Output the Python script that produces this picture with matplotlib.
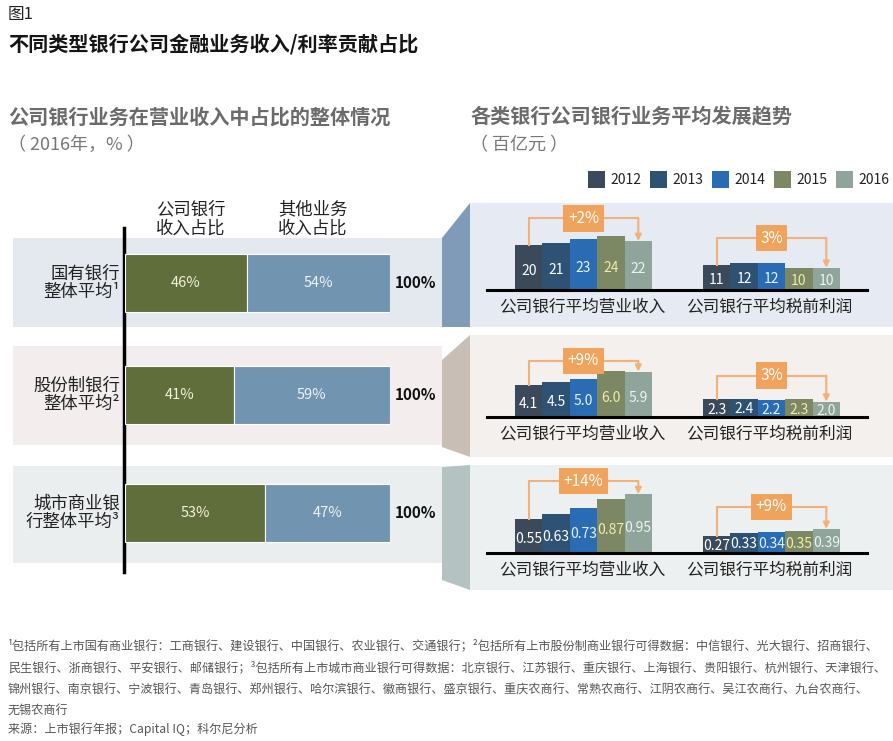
import matplotlib
matplotlib.use('Agg')
import matplotlib.pyplot as plt
from matplotlib.patches import Rectangle, Polygon

plt.rcParams['font.family'] = ['Noto Sans CJK SC', 'DejaVu Sans']

# ---- data ----
row_names = ['国有银行\n整体平均¹', '股份制银行\n整体平均²', '城市商业银\n行整体平均³']
corp_share = [46, 41, 53]
other_share = [54, 59, 47]

years = ['2012', '2013', '2014', '2015', '2016']
op_income = [[20, 21, 23, 24, 22],
             [4.1, 4.5, 5.0, 6.0, 5.9],
             [0.55, 0.63, 0.73, 0.87, 0.95]]
pretax_profit = [[11, 12, 12, 10, 10],
                 [2.3, 2.4, 2.2, 2.3, 2.0],
                 [0.27, 0.33, 0.34, 0.35, 0.39]]
op_growth = ['+2%', '+9%', '+14%']
profit_growth = ['3%', '3%', '+9%']
value_fmt = ['{:.0f}', '{:.1f}', '{:.2f}']

footnotes = [
    '¹包括所有上市国有商业银行：工商银行、建设银行、中国银行、农业银行、交通银行；²包括所有上市股份制商业银行可得数据：中信银行、光大银行、招商银行、',
    '民生银行、浙商银行、平安银行、邮储银行；³包括所有上市城市商业银行可得数据：北京银行、江苏银行、重庆银行、上海银行、贵阳银行、杭州银行、天津银行、',
    '锦州银行、南京银行、宁波银行、青岛银行、郑州银行、哈尔滨银行、徽商银行、盛京银行、重庆农商行、常熟农商行、江阴农商行、吴江农商行、九台农商行、',
    '无锡农商行',
    '来源：上市银行年报；Capital IQ；科尔尼分析',
]

# ---- style / layout ----
W, H = 893, 741
year_colors = ['#3b4a5b', '#2e5274', '#2a6cb3', '#7c8763', '#8fa59b']
year_text = ['#ffffff', '#ffffff', '#e6f2ff', '#f0eca8', '#eef3ee']
green = '#5f6e3a'
blue = '#7194b0'
orange = '#f0a35c'
orange_line = '#f2b07a'

left_panels = [(238, 327, '#e4e9f0'), (346, 445, '#f3eeed'), (466, 563, '#ebeeef')]
right_panels = [(203, 327, '#e6ebf3'), (335, 457, '#f3f0ee'), (465, 590, '#edf0f0')]
connectors = [([(442, 238), (470, 203), (470, 327), (442, 327)], '#7f9bb8'),
              ([(442, 360), (470, 335), (470, 457), (442, 447)], '#c8beb6'),
              ([(442, 467), (470, 465), (470, 590), (442, 580)], '#b4c2c2')]
row_y = [283, 395, 513]
baselines = [290, 417, 553]
px_per_unit = [2.23, 7.7, 62]
op_box_off = [18, 10, 13]
pf_box_off = [25, 23, 22]
bar_w = 27.4
group_x = [515, 703]

fig = plt.figure(figsize=(W / 100, H / 100), dpi=100)
bg = fig.add_axes([0, 0, 1, 1])
bg.set_xlim(0, W)
bg.set_ylim(H, 0)
bg.axis('off')

# panels
for (y0, y1, c) in left_panels:
    bg.add_patch(Rectangle((13, y0), 442 - 13, y1 - y0, color=c, lw=0))
for (y0, y1, c) in right_panels:
    bg.add_patch(Rectangle((470, y0), W - 470, y1 - y0, color=c, lw=0))
for pts, c in connectors:
    bg.add_patch(Polygon(pts, closed=True, color=c, lw=0))

# titles
bg.text(8, 15, '图1', fontsize=12, va='center', color='#222')
bg.text(8, 44, '不同类型银行公司金融业务收入/利率贡献占比', fontsize=14.5,
        fontweight='bold', va='center', color='#151515')
bg.text(8, 117, '公司银行业务在营业收入中占比的整体情况', fontsize=14.5,
        fontweight='bold', va='center', color='#6b6b6b')
bg.text(8, 145, '（ 2016年，% ）', fontsize=13, va='center', color='#777')
bg.text(470, 117, '各类银行公司银行业务平均发展趋势', fontsize=14.5,
        fontweight='bold', va='center', color='#6b6b6b')
bg.text(470, 145, '（ 百亿元 ）', fontsize=13, va='center', color='#777')

# legend
for i, (yr, c) in enumerate(zip(years, year_colors)):
    x = 588 + i * 62
    bg.add_patch(Rectangle((x, 171), 17, 17, color=c, lw=0))
    bg.text(x + 22, 179.5, yr, fontsize=10, va='center', color='#222')

# left block headers and labels
bg.text(191, 219, '公司银行\n收入占比', fontsize=12.5, ha='center', va='center',
        linespacing=1.05, color='#222')
bg.text(313, 219, '其他业务\n收入占比', fontsize=12.5, ha='center', va='center',
        linespacing=1.05, color='#222')
bg.plot([124, 124], [228, 572], color='black', lw=2.5)
for name, y, a, b in zip(row_names, row_y, corp_share, other_share):
    bg.text(120, y, name, fontsize=12.5, ha='right', va='center', ma='right',
            linespacing=1.05, color='#222')
    bg.text(415, y, f'{a + b}%', fontsize=11, fontweight='bold', ha='center',
            va='center', color='#111')

# left stacked bars
axl = fig.add_axes([125 / W, 0, 265 / W, 1])
axl.set_xlim(0, 100)
axl.set_ylim(H, 0)
axl.axis('off')
axl.barh(row_y, corp_share, height=58, color=green, edgecolor='white', lw=0.8)
axl.barh(row_y, other_share, left=corp_share, height=58, color=blue,
         edgecolor='white', lw=0.8)
for y, a, b in zip(row_y, corp_share, other_share):
    axl.text(a / 2, y, f'{a}%', fontsize=10.5, ha='center', va='center', color='#f3f1dc')
    axl.text(a + b / 2, y, f'{b}%', fontsize=10.5, ha='center', va='center', color='#eef3f8')

# right small bar charts
top_px = 120
for r in range(3):
    base = baselines[r]
    ppu = px_per_unit[r]
    ax = fig.add_axes([470 / W, 1 - base / H, (W - 470) / W, top_px / H])
    ax.set_xlim(470, W)
    ax.set_ylim(0, top_px / ppu)
    ax.axis('off')
    for g, (vals, growth, off) in enumerate(zip([op_income[r], pretax_profit[r]],
                                                [op_growth[r], profit_growth[r]],
                                                [op_box_off[r], pf_box_off[r]])):
        xs = [group_x[g] + bar_w * (i + 0.5) for i in range(len(vals))]
        ax.bar(xs, vals, width=bar_w, color=year_colors, lw=0)
        for x, v, tc in zip(xs, vals, year_text):
            ax.text(x, v * 0.42, value_fmt[r].format(v), fontsize=10,
                    ha='center', va='center', color=tc)
        level = max(vals) + off / ppu
        ax.plot([xs[0], xs[0], xs[-1]], [vals[0], level, level],
                color=orange_line, lw=1.5, clip_on=False, solid_joinstyle='miter')
        ax.annotate('', xy=(xs[-1], vals[-1]), xytext=(xs[-1], level),
                    arrowprops=dict(arrowstyle='-|>', color=orange_line, lw=1.5,
                                    shrinkA=0, shrinkB=0, mutation_scale=9),
                    annotation_clip=False)
        ax.text((xs[0] + xs[-1]) / 2, level, growth, fontsize=11, ha='center',
                va='center', color='white', clip_on=False,
                bbox=dict(boxstyle='square,pad=0.3', fc=orange, ec='none'))
    ax.plot([487, 867], [0, 0], color='black', lw=2.2, clip_on=False)
    bg.text(582, base + 17, '公司银行平均营业收入', fontsize=12, ha='center',
            va='center', color='#222')
    bg.text(769, base + 17, '公司银行平均税前利润', fontsize=12, ha='center',
            va='center', color='#222')

# footnotes
for y, line in zip([646, 668, 690, 711, 729], footnotes):
    bg.text(8, y, line, fontsize=8.7, va='center', color='#555')

fig.savefig('out.png', dpi=100)
